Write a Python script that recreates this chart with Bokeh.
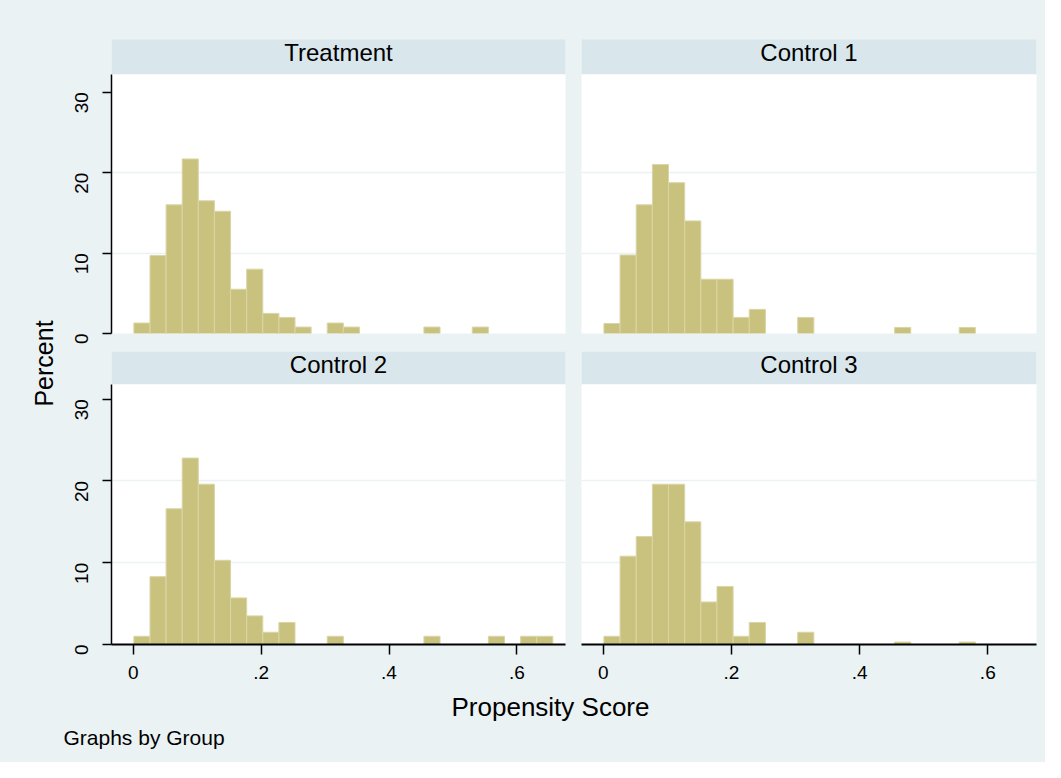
import math
from bokeh.plotting import figure
from bokeh.models import Label, FixedTicker, Grid, Range1d, ColumnDataSource, BoxAnnotation
from bokeh.core.properties import value
from bokeh.layouts import row, column
from bokeh.embed import file_html
from bokeh.resources import INLINE

# ---------------- data ----------------
groups = ["Treatment", "Control 1", "Control 2", "Control 3"]
bin_start = 0.001
bin_width = 0.0252
treatment = [1.3, 9.7, 16.0, 21.7, 16.5, 15.2, 5.5, 8.0, 2.5, 2.0, 0.8, 0, 1.3, 0.8,
             0, 0, 0, 0, 0.8, 0, 0, 0.8, 0, 0, 0, 0]
control1 = [1.25, 9.75, 16.0, 21.0, 18.75, 14.0, 6.75, 6.75, 2.0, 3.0, 0, 0, 2.0, 0,
            0, 0, 0, 0, 0.75, 0, 0, 0, 0.75, 0, 0, 0]
control2 = [1.0, 8.3, 16.6, 22.8, 19.6, 10.3, 5.7, 3.5, 1.5, 2.7, 0, 0, 1.0, 0,
            0, 0, 0, 0, 1.0, 0, 0, 0, 1.0, 0, 1.0, 1.0]
control3 = [1.0, 10.8, 13.2, 19.6, 19.6, 15.0, 5.2, 7.1, 1.0, 2.7, 0, 0, 1.5, 0,
            0, 0, 0, 0, 0.3, 0, 0, 0, 0.3, 0, 0, 0]
x_ticks = [0, 0.2, 0.4, 0.6]
x_tick_labels = ["0", ".2", ".4", ".6"]
y_ticks = [0, 10, 20, 30]
y_tick_labels = ["0", "10", "20", "30"]
grid_ticks = [10, 20]
x_title = "Propensity Score"
y_title = "Percent"
note = "Graphs by Group"

# ---------------- style ----------------
BG = "#EAF2F3"
STRIP = "#D9E6EB"
BAR = "#C9C27F"
BAR_LINE = "#DAD5A6"
FONT = "Liberation Sans"
X_RANGE = (-0.034, 0.676)
LEFT_W, RIGHT_W = 515, 472
LEFT_B, RIGHT_B = (53, 8), (8, 9)


def base_fig(width, height, ml, mr, mt, mb, **kw):
    p = figure(width=width, height=height, output_backend="svg", toolbar_location=None,
               min_border_left=ml, min_border_right=mr, min_border_top=mt,
               min_border_bottom=mb, **kw)
    p.background_fill_color = "white"
    p.border_fill_color = BG
    p.outline_line_color = None
    p.center = [r for r in p.center if not isinstance(r, Grid)]
    return p


def header(text, left_col, top_row):
    width = LEFT_W if left_col else RIGHT_W
    ml, mr = LEFT_B if left_col else RIGHT_B
    height, strip_h, text_y = (74, 35, 22) if top_row else (33, 33, 20)
    p = base_fig(width, height, ml, mr, 0, 0, x_range=Range1d(0, 1),
                 y_range=Range1d(0, height),
                 x_axis_location=None, y_axis_location=None)
    p.background_fill_color = BG
    p.add_layout(BoxAnnotation(bottom=0, top=strip_h, fill_color=STRIP, fill_alpha=1,
                               line_color=None, level="underlay"))
    p.text(x=[0.5], y=[text_y], text=[text], text_align="center",
           text_baseline="middle", text_font=value(FONT), text_font_size="24px",
           text_color="black")
    return p


def panel(values, left_col, bottom_row):
    width = LEFT_W if left_col else RIGHT_W
    ml, mr = LEFT_B if left_col else RIGHT_B
    height, mb = (306, 46) if bottom_row else (277, 18)
    ymax = 31.8 if bottom_row else 32.2
    p = base_fig(width, height, ml, mr, 0, mb,
                 x_range=Range1d(*X_RANGE), y_range=Range1d(0, ymax),
                 x_axis_location="below" if bottom_row else None,
                 y_axis_location="left" if left_col else None)
    p.add_layout(Grid(dimension=1, ticker=FixedTicker(ticks=grid_ticks),
                      grid_line_color=BG, grid_line_width=1.5))
    lefts, rights, tops = [], [], []
    for i, v in enumerate(values):
        if v > 0:
            lefts.append(bin_start + i * bin_width)
            rights.append(bin_start + (i + 1) * bin_width)
            tops.append(v)
    src = ColumnDataSource(dict(left=lefts, right=rights, top=tops))
    p.quad(left="left", right="right", top="top", bottom=0, source=src,
           fill_color=BAR, line_color=BAR_LINE, line_width=1)
    axes = []
    if left_col:
        ax = p.yaxis[0]
        ax.ticker = FixedTicker(ticks=y_ticks)
        ax.major_label_overrides = {t: l for t, l in zip(y_ticks, y_tick_labels)}
        ax.major_label_orientation = math.pi / 2
        ax.major_tick_out = 9
        ax.major_label_standoff = 21
        ax.axis_line_width = 1.5
        axes.append(ax)
    if bottom_row:
        ax = p.xaxis[0]
        ax.ticker = FixedTicker(ticks=x_ticks)
        ax.major_label_overrides = {t: l for t, l in zip(x_ticks, x_tick_labels)}
        ax.major_tick_out = 10
        ax.major_label_standoff = 11
        ax.axis_line_width = 2
        axes.append(ax)
    for ax in axes:
        ax.major_tick_in = 0
        ax.minor_tick_line_color = None
        ax.major_tick_line_width = 1.5
        ax.axis_line_color = "black"
        ax.major_tick_line_color = "black"
        ax.major_label_text_font = FONT
        ax.major_label_text_font_size = "19px"
        ax.major_label_text_color = "black"
    return p


h1 = header(groups[0], True, True)
h2 = header(groups[1], False, True)
h3 = header(groups[2], True, False)
h4 = header(groups[3], False, False)
p1 = panel(treatment, True, False)
p2 = panel(control1, False, False)
p3 = panel(control2, True, True)
p4 = panel(control3, False, True)

# left strip with y title
pl = base_fig(58, 762, 0, 0, 0, 0, x_range=Range1d(0, 58), y_range=Range1d(0, 762),
              x_axis_location=None, y_axis_location=None)
pl.background_fill_color = BG
pl.add_layout(Label(x=43, y=399, text=y_title,
                    angle=math.pi / 2, text_align="center", text_baseline="middle",
                    text_font=FONT, text_font_size="25px", text_color="black"))

# bottom strip with x title and note
pb = base_fig(LEFT_W + RIGHT_W, 72, 0, 0, 0, 0, x_range=Range1d(0, LEFT_W + RIGHT_W),
              y_range=Range1d(0, 72), x_axis_location=None, y_axis_location=None)
pb.background_fill_color = BG
pb.add_layout(Label(x=492, y=56, text=x_title,
                    text_align="center", text_baseline="alphabetic",
                    text_font=FONT, text_font_size="26px", text_color="black"))
pb.add_layout(Label(x=5, y=25, text=note,
                    text_align="left", text_baseline="alphabetic",
                    text_font=FONT, text_font_size="21px", text_color="black"))

st = {"background-color": BG}
layout = row(pl,
             column(row(h1, h2, styles=st), row(p1, p2, styles=st),
                    row(h3, h4, styles=st), row(p3, p4, styles=st), pb, styles=st),
             styles=st)

open("out.html", "w").write(file_html(layout, INLINE))
